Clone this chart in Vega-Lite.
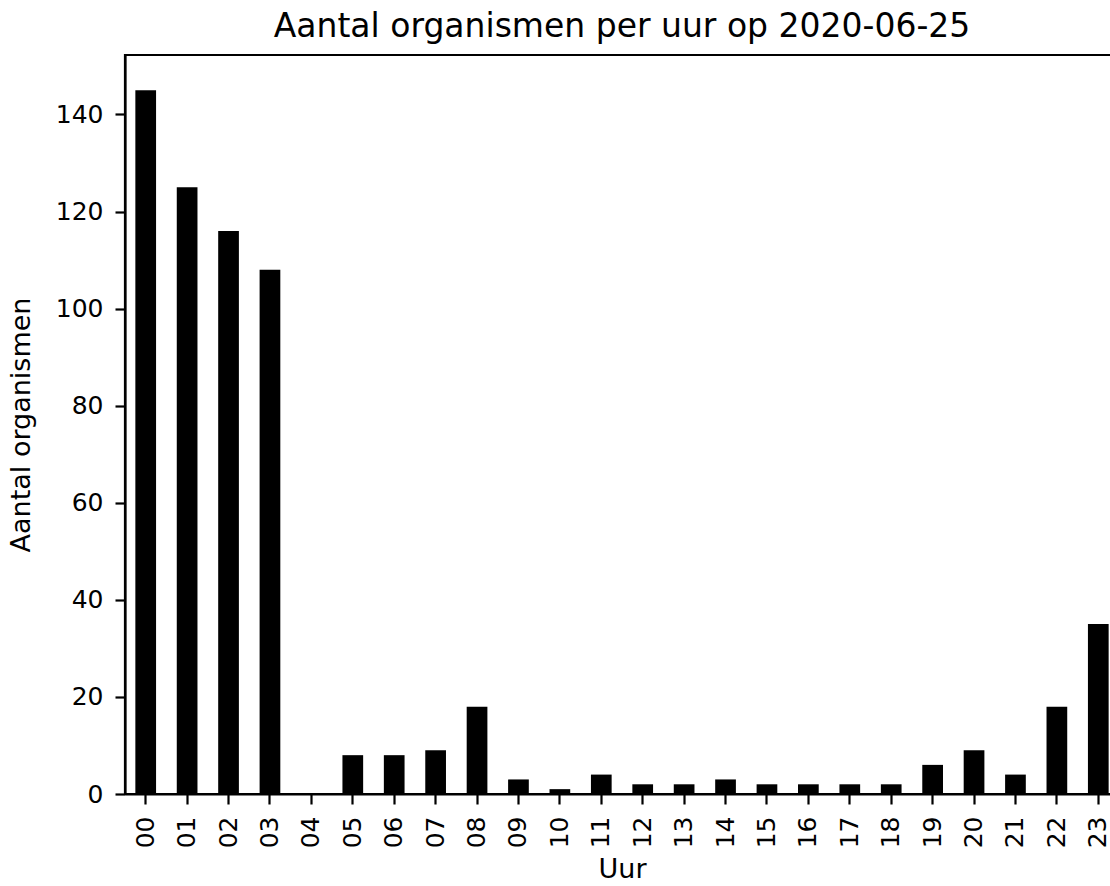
{
  "$schema": "https://vega.github.io/schema/vega-lite/v6.json",
  "autosize": "none",
  "padding": {"left": 125, "top": 55, "right": 10, "bottom": 92},
  "width": 994,
  "height": 739,
  "background": "white",
  "title": {
    "text": "Aantal organismen per uur op 2020-06-25",
    "font": "DejaVu Sans",
    "fontSize": 33,
    "fontWeight": "normal",
    "color": "black",
    "anchor": "middle",
    "offset": 11
  },
  "config": {
    "view": {"stroke": "black", "strokeWidth": 2.2},
    "axis": {
      "labelFont": "DejaVu Sans",
      "titleFont": "DejaVu Sans",
      "labelFontSize": 25,
      "titleFontSize": 27,
      "titleFontWeight": "normal",
      "labelColor": "black",
      "titleColor": "black",
      "tickColor": "black",
      "domainColor": "black",
      "domainWidth": 2.2,
      "tickWidth": 2.2,
      "tickSize": 10,
      "labelPadding": 12,
      "grid": false
    }
  },
  "data": {
    "values": [
      {"uur": "00", "aantal": 145},
      {"uur": "01", "aantal": 125},
      {"uur": "02", "aantal": 116},
      {"uur": "03", "aantal": 108},
      {"uur": "04", "aantal": 0},
      {"uur": "05", "aantal": 8},
      {"uur": "06", "aantal": 8},
      {"uur": "07", "aantal": 9},
      {"uur": "08", "aantal": 18},
      {"uur": "09", "aantal": 3},
      {"uur": "10", "aantal": 1},
      {"uur": "11", "aantal": 4},
      {"uur": "12", "aantal": 2},
      {"uur": "13", "aantal": 2},
      {"uur": "14", "aantal": 3},
      {"uur": "15", "aantal": 2},
      {"uur": "16", "aantal": 2},
      {"uur": "17", "aantal": 2},
      {"uur": "18", "aantal": 2},
      {"uur": "19", "aantal": 6},
      {"uur": "20", "aantal": 9},
      {"uur": "21", "aantal": 4},
      {"uur": "22", "aantal": 18},
      {"uur": "23", "aantal": 35}
    ]
  },
  "mark": {"type": "bar", "color": "black"},
  "encoding": {
    "x": {
      "field": "uur",
      "type": "ordinal",
      "sort": null,
      "scale": {"paddingInner": 0.5, "paddingOuter": 0.25},
      "axis": {"title": "Uur", "labelAngle": -90, "titlePadding": 9}
    },
    "y": {
      "field": "aantal",
      "type": "quantitative",
      "scale": {"domain": [0, 152.25], "nice": false},
      "axis": {"title": "Aantal organismen", "values": [0, 20, 40, 60, 80, 100, 120, 140], "titlePadding": 20}
    }
  }
}
